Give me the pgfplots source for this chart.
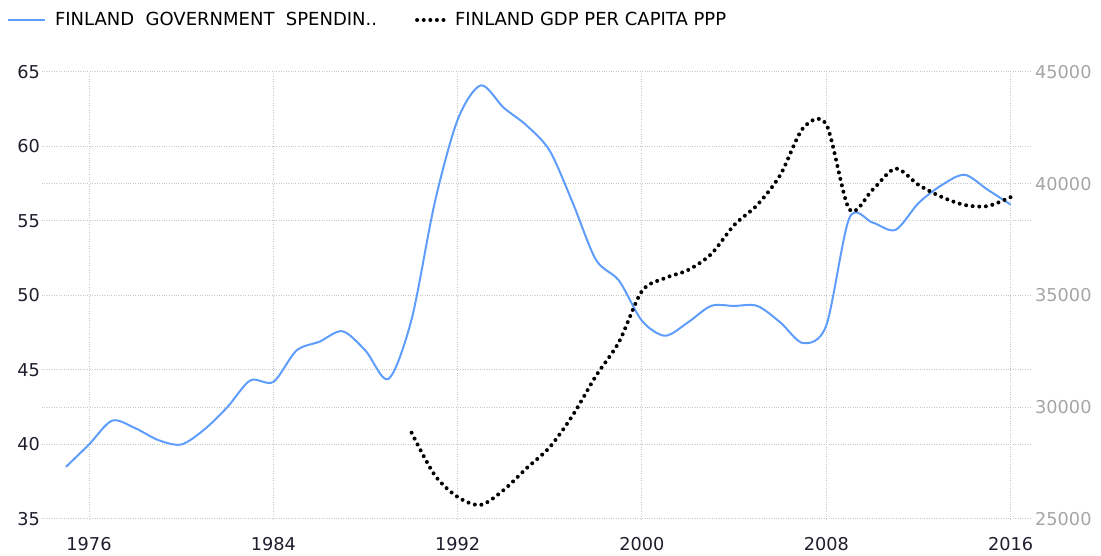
\documentclass[border=0pt]{standalone}
\usepackage{fontspec}
\setmainfont{DejaVu Sans}
\usepackage{pgfplots}
\pgfplotsset{compat=1.18}
\definecolor{spend}{RGB}{95,157,252}
\definecolor{gridc}{RGB}{200,200,200}
\definecolor{lefttick}{RGB}{30,30,45}
\definecolor{righttick}{RGB}{165,165,165}
\pgfplotsset{
  leglong/.style={legend image code/.code={\draw[##1] (0bp,0bp) -- (37bp,0bp);}},
  legshort/.style={legend image code/.code={\draw[##1] (0bp,0bp) -- (27bp,0bp);}},
}
\pgfplotstableread{
year val
1975 38.5
1976 40.0
1977 41.6
1978 41.1
1979 40.3
1980 40.0
1981 41.0
1982 42.5
1983 44.3
1984 44.2
1985 46.3
1986 46.9
1987 47.6
1988 46.3
1989 44.4
1990 48.4
1991 56.2
1992 61.8
1993 64.1
1994 62.6
1995 61.4
1996 59.7
1997 56.2
1998 52.4
1999 51.0
2000 48.3
2001 47.3
2002 48.2
2003 49.3
2004 49.3
2005 49.3
2006 48.2
2007 46.8
2008 48.0
2009 55.2
2010 54.9
2011 54.4
2012 56.2
2013 57.4
2014 58.1
2015 57.1
2016 56.1
}\spending
\pgfplotstableread{
year val
1990 28860
1991 26970
1992 25985
1993 25630
1994 26300
1995 27280
1996 28220
1997 29650
1998 31400
1999 32920
2000 35200
2001 35780
2002 36140
2003 36850
2004 38150
2005 39050
2006 40390
2007 42500
2008 42650
2009 38850
2010 39720
2011 40680
2012 39950
2013 39410
2014 39050
2015 39000
2016 39400
}\gdp
\begin{document}
\begin{tikzpicture}[x=1bp,y=1bp]
\useasboundingbox (0,0) rectangle (1101,556);
\pgfplotsset{common/.style={
  scale only axis, width=988bp, height=447bp,
  at={(42bp,37bp)}, anchor=south west,
  xmin=1973.96, xmax=2016.84,
  axis line style={draw=none}, major tick length=0pt,
  scaled y ticks=false, scaled x ticks=false,
  /pgf/number format/assume math mode=true,
  /pgf/number format/1000 sep={},
  ticklabel style={font=\fontsize{17.7bp}{20bp}\selectfont},
}}
\begin{axis}[common,
  ymin=35, ymax=65, ytick={35,40,...,65},
  extra y ticks={42.5,57.5}, extra y tick labels={},
  extra y tick style={grid=major},
  xtick={1976,1984,...,2016},
  xmajorgrids, ymajorgrids,
  grid style={gridc, dotted, line width=1bp},
  yticklabel style={text=lefttick, anchor=east, inner sep=0pt, xshift=-2bp},
  xticklabel style={text=lefttick, anchor=north, inner sep=0pt, yshift=-18.5bp},
  legend columns=2,
  legend style={draw=none, fill=none, inner sep=0pt, outer sep=0pt,
    at={(axis description cs:-0.0354,1.1163)}, anchor=west,
    font=\fontsize{18bp}{20bp}\selectfont,
    /tikz/every odd column/.append style={column sep=8bp},
    /tikz/every even column/.append style={column sep=37bp},
    nodes={inner sep=1bp}},
]
\addplot[spend, line width=2bp, smooth, leglong] table[x=year,y=val]{\spending};
\addlegendentry{FINLAND\ \ GOVERNMENT\ \ SPENDIN..}
\addlegendimage{black, line width=4bp, line cap=round, dash pattern=on 0bp off 6.6bp, legshort}
\addlegendentry{FINLAND GDP PER CAPITA PPP}
\end{axis}
\begin{axis}[common,
  axis x line=none, axis y line*=right,
  ymin=25000, ymax=45000, ytick={25000,30000,...,45000},
  yticklabel style={text=righttick, anchor=west, inner sep=0pt, xshift=5bp},
]
\addplot[black, line width=4bp, line cap=round, dash pattern=on 0bp off 6.6bp, smooth] table[x=year,y=val]{\gdp};
\end{axis}
\end{tikzpicture}
\end{document}
